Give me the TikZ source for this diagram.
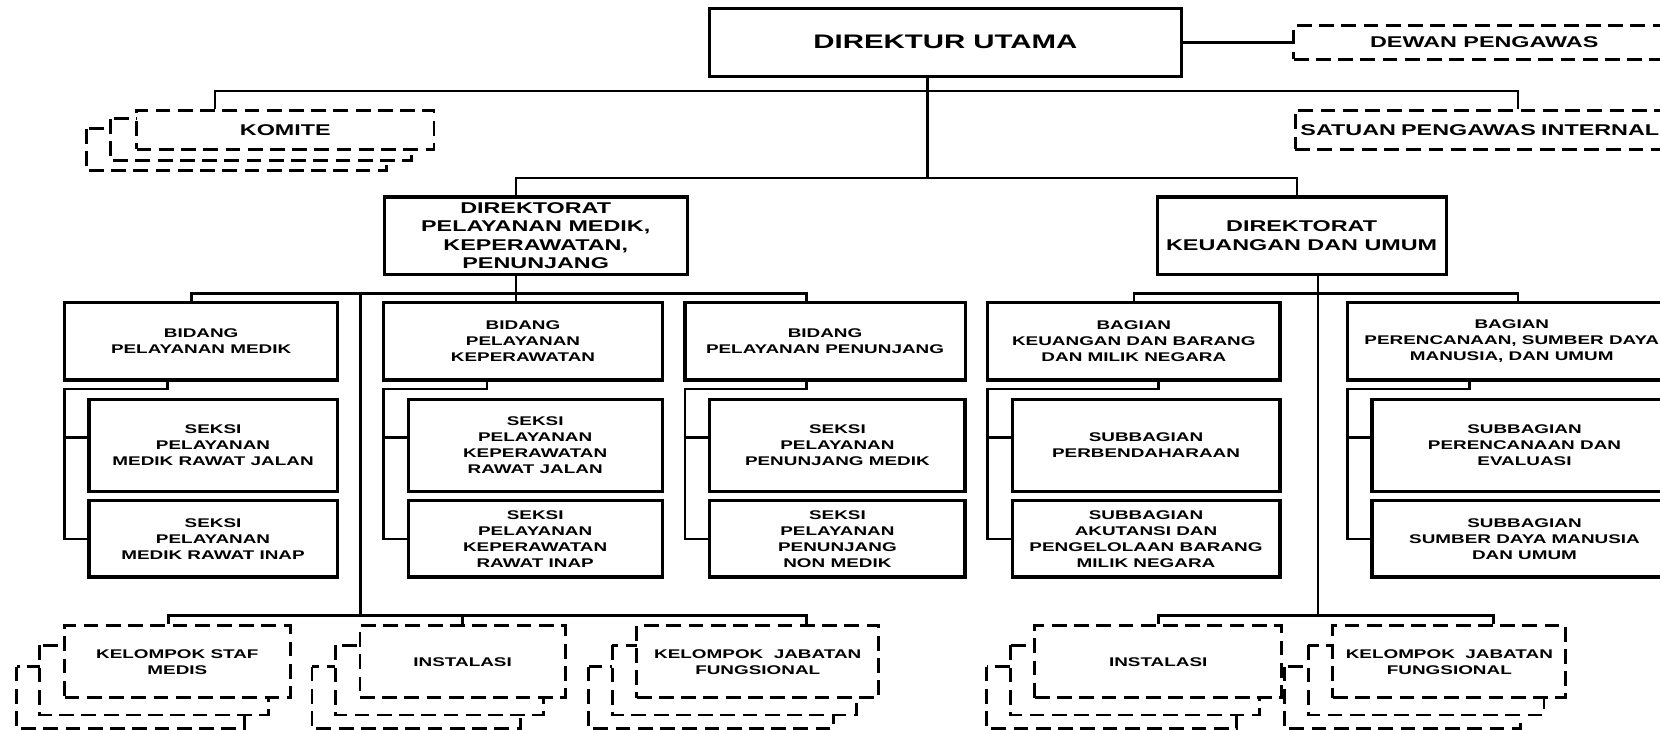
\documentclass[tikz,border=0pt]{standalone}
\usepackage{fontspec}
\setmainfont{Liberation Sans}[FakeStretch=1.5]
\usetikzlibrary{backgrounds}

% salinan kotak putus-putus di belakang kotak depan
\newcommand{\tumpuk}[4]{%
  \draw[kotakputus,fill=white] ([shift={(#2,#3)}]#1.north west) rectangle ([shift={(#2,#4)}]#1.south east);}

\begin{document}
\begin{tikzpicture}[x=1pt,y=-1pt,
    kotak/.style={draw,line width=3pt,fill=white,align=center,inner sep=0pt,
      font=\bfseries\fontsize{11.9}{15.1}\selectfont},
    kotakputus/.style={kotak,line width=2.7pt,dash pattern=on 14pt off 7pt},
    besar/.style={font=\bfseries\fontsize{18.5}{22}\selectfont},
    sedang/.style={font=\bfseries\fontsize{14.7}{17.5}\selectfont},
    garis/.style={line width=2.5pt}]
  \useasboundingbox (0,0) rectangle (1568,688.6);

  % puncak
  \node[kotak,besar,minimum width=446,minimum height=64] (du) at (893,40) {DIREKTUR UTAMA};
  \node[kotakputus,sedang,minimum width=360,minimum height=32] (dp) at (1402,40) {DEWAN PENGAWAS};
  \node[kotakputus,sedang,anchor=west,minimum height=37,text width=400,inner xsep=5,align=left] (spi) at (1222,122.5) {SATUAN PENGAWAS INTERNAL};
  \node[kotakputus,sedang,minimum width=281,minimum height=37] (kom) at (269.5,122.5) {KOMITE};

  % direktorat
  \node[kotak,sedang,minimum width=286,minimum height=73] (dpm) at (506,222.5) {DIREKTORAT\\PELAYANAN MEDIK,\\KEPERAWATAN,\\PENUNJANG};
  \node[kotak,sedang,minimum width=273,minimum height=73] (dku) at (1229.5,222.5) {DIREKTORAT\\KEUANGAN DAN UMUM};

  % bidang dan bagian
  \node[kotak,minimum width=258,minimum height=73] (bmed) at (190,322.5) {BIDANG\\PELAYANAN MEDIK};
  \node[kotak,minimum width=263,minimum height=73] (bkep) at (494,322.5) {BIDANG\\PELAYANAN\\KEPERAWATAN};
  \node[kotak,minimum width=264.6,minimum height=73] (bpen) at (779.3,322.5) {BIDANG\\PELAYANAN PENUNJANG};
  \node[kotak,minimum width=276,minimum height=73] (bkeu) at (1071,322.5) {BAGIAN\\KEUANGAN DAN BARANG\\DAN MILIK NEGARA};
  \node[kotak,minimum width=310,minimum height=73] (bren) at (1428,322.5) {BAGIAN\\PERENCANAAN, SUMBER DAYA\\MANUSIA, DAN UMUM};

  % seksi dan subbagian
  \node[kotak,minimum width=234.5,minimum height=87] (smed1) at (201.25,420.5) {SEKSI\\PELAYANAN\\MEDIK RAWAT JALAN};
  \node[kotak,minimum width=234.5,minimum height=72] (smed2) at (201.25,509) {SEKSI\\PELAYANAN\\MEDIK RAWAT INAP};
  \node[kotak,minimum width=240,minimum height=87] (skep1) at (505.5,420.5) {SEKSI\\PELAYANAN\\KEPERAWATAN\\RAWAT JALAN};
  \node[kotak,minimum width=240,minimum height=72] (skep2) at (505.5,509) {SEKSI\\PELAYANAN\\KEPERAWATAN\\RAWAT INAP};
  \node[kotak,minimum width=241,minimum height=87] (spen1) at (791,420.5) {SEKSI\\PELAYANAN\\PENUNJANG MEDIK};
  \node[kotak,minimum width=241,minimum height=72] (spen2) at (791,509) {SEKSI\\PELAYANAN\\PENUNJANG\\NON MEDIK};
  \node[kotak,minimum width=253,minimum height=87] (skeu1) at (1082.5,420.5) {SUBBAGIAN\\PERBENDAHARAAN};
  \node[kotak,minimum width=253,minimum height=72] (skeu2) at (1082.5,509) {SUBBAGIAN\\AKUTANSI DAN\\PENGELOLAAN BARANG\\MILIK NEGARA};
  \node[kotak,minimum width=288,minimum height=87] (sren1) at (1440,420.5) {SUBBAGIAN\\PERENCANAAN DAN\\EVALUASI};
  \node[kotak,minimum width=288,minimum height=72] (sren2) at (1440,509) {SUBBAGIAN\\SUMBER DAYA MANUSIA\\DAN UMUM};

  % kelompok dan instalasi
  \node[kotakputus,minimum width=213,minimum height=68] (ksm) at (167.5,625) {KELOMPOK STAF\\MEDIS};
  \node[kotakputus,minimum width=194,minimum height=68] (ins1) at (437,625) {INSTALASI};
  \node[kotakputus,minimum width=228.5,minimum height=68] (kjf1) at (715.75,625) {KELOMPOK~~JABATAN\\FUNGSIONAL};
  \node[kotakputus,minimum width=233,minimum height=68] (ins2) at (1094,625) {INSTALASI};
  \node[kotakputus,minimum width=220,minimum height=68] (kjf2) at (1369,625) {KELOMPOK~~JABATAN\\FUNGSIONAL};

  \begin{scope}[on background layer]
    \tumpuk{kom}{-46pt}{-19pt}{-19pt}
    \tumpuk{kom}{-23pt}{-9.5pt}{-9.5pt}
    \tumpuk{ksm}{-44pt}{-40pt}{-28pt}
    \tumpuk{ksm}{-22pt}{-20pt}{-15pt}
    \tumpuk{ins1}{-44pt}{-40pt}{-28pt}
    \tumpuk{ins1}{-22pt}{-20pt}{-15pt}
    \tumpuk{kjf1}{-44pt}{-40pt}{-28pt}
    \tumpuk{kjf1}{-22pt}{-20pt}{-15pt}
    \tumpuk{ins2}{-44pt}{-40pt}{-28pt}
    \tumpuk{ins2}{-22pt}{-20pt}{-15pt}
    \tumpuk{kjf2}{-44pt}{-40pt}{-28pt}
    \tumpuk{kjf2}{-22pt}{-20pt}{-15pt}
  \end{scope}

  % titik cabang
  \coordinate (t1) at (203,86);
  \coordinate (t2) at (1434,86);
  \coordinate (t3) at (876,168);
  \coordinate (t4) at (487.5,168);
  \coordinate (t5) at (1225,168);
  \coordinate (m1) at (181,277);
  \coordinate (m2) at (762,277);
  \coordinate (m3) at (340.5,277);
  \coordinate (r1) at (1071,277);
  \coordinate (r2) at (1434,277);
  \coordinate (l1) at (159,581.5);
  \coordinate (l2) at (762,581.5);
  \coordinate (l4) at (1411,581.5);
  \coordinate (a1) at (61,367.5);
  \coordinate (a2) at (362.5,367.5);
  \coordinate (a3) at (647,367.5);
  \coordinate (a4) at (933,367.5);
  \coordinate (a5) at (1273,367.5);

  % garis
  \draw[garis] (du.east) -- (dp.west);
  \draw[garis] (kom.north -| t1) -- (t1) -- (t2) -- (spi.north -| t2);
  \draw[garis] (du.south -| t3) -- (t3);
  \draw[garis] (dpm.north -| t4) -- (t4) -- (t5) -- (dku.north -| t5);

  \draw[garis] (dpm.south -| t4) -- (bkep.north -| t4);
  \draw[garis] (bmed.north -| m1) -- (m1) -- (m2) -- (bpen.north -| m2);
  \draw[garis] (m3) -- (m3 |- l1);
  \draw[garis] (ksm.north -| l1) -- (l1) -- (l2) -- (kjf1.north -| l2);
  \draw[garis] (ins1.north) -- (ins1.north |- l1);

  \draw[garis] (bkeu.north) -- (bkeu.north |- r1) -- (r2) -- (bren.north -| r2);
  \draw[garis] (dku.south -| 1245,0) -- (1245,581.5);
  \draw[garis] (ins2.north) -- (ins2.north |- l4) -- (l4) -- (kjf2.north -| l4);

  \draw[garis] (bmed.south -| 158,0) |- (a1) |- ([yshift=7pt]smed1.west);
  \draw[garis] (a1) |- (smed2.west);
  \draw[garis] (bkep.south -| 460,0) |- (a2) |- ([yshift=7pt]skep1.west);
  \draw[garis] (a2) |- (skep2.west);
  \draw[garis] (bpen.south -| 762,0) |- (a3) |- ([yshift=7pt]spen1.west);
  \draw[garis] (a3) |- (spen2.west);
  \draw[garis] (bkeu.south -| 1094,0) |- (a4) |- ([yshift=7pt]skeu1.west);
  \draw[garis] (a4) |- (skeu2.west);
  \draw[garis] (bren.south -| 1388,0) |- (a5) |- ([yshift=7pt]sren1.west);
  \draw[garis] (a5) |- (sren2.west);
\end{tikzpicture}
\end{document}
